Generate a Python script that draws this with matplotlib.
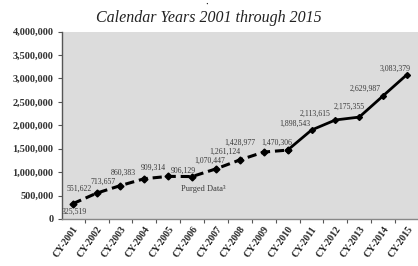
import matplotlib
matplotlib.use("Agg")
import matplotlib.pyplot as plt
import numpy as np

years = ["CY-2001", "CY-2002", "CY-2003", "CY-2004", "CY-2005", "CY-2006", "CY-2007",
         "CY-2008", "CY-2009", "CY-2010", "CY-2011", "CY-2012", "CY-2013", "CY-2014", "CY-2015"]
values = [325519, 551622, 713657, 860383, 909314, 906129, 1070447,
          1261124, 1428977, 1470306, 1898543, 2113615, 2175355, 2629987, 3083379]
value_labels = ["325,519", "551,622", "713,657", "860,383", "909,314", "906,129", "1,070,447",
                "1,261,124", "1,428,977", "1,470,306", "1,898,543", "2,113,615", "2,175,355",
                "2,629,987", "3,083,379"]
yticks = [0, 500000, 1000000, 1500000, 2000000, 2500000, 3000000, 3500000, 4000000]
ytick_labels = ["0", "500,000", "1,000,000", "1,500,000", "2,000,000", "2,500,000",
                "3,000,000", "3,500,000", "4,000,000"]
title = "Calendar Years 2001 through 2015"
note = "Purged Data³"
split_index = 9  # dashed up to CY-2010, solid after

# label offsets in pixels (dx, dy) relative to the point
label_offsets = [(2, -8), (-17, 4), (-17, 4), (-21, 6), (-15, 9), (-9, 6), (-6, 8),
                 (-15, 8), (-24, 9), (-11, 7), (-17, 6), (-20, 6), (-10, 10), (-18, 7), (-12, 6)]

serif = ["Liberation Serif", "DejaVu Serif"]

fig = plt.figure(figsize=(4.18, 2.66), dpi=100)
ax = fig.add_axes([62/418, 47/266, (418-62)/418, (219-31.6)/266])
ax.set_facecolor("#dcdcdc")

x = np.arange(len(years))
ax.plot(x[:split_index+1], values[:split_index+1], color="black", lw=2.2,
        linestyle=(0, (3, 1.6)), marker="D", ms=3.5, zorder=3)
ax.plot(x[split_index:], values[split_index:], color="black", lw=2.0,
        linestyle="-", marker="D", ms=3.0, zorder=3)

for xi, v, lab, (dx, dy) in zip(x, values, value_labels, label_offsets):
    ax.annotate(lab, (xi, v), xytext=(dx, dy), textcoords="offset pixels",
                ha="center", va="center", fontsize=5.6, color="#3a3a3a", family=serif)

ax.text(5.45, 640000, note, fontsize=6, color="#3a3a3a", family=serif,
        ha="center", va="center")

ax.set_xlim(-0.45, 14.46)
ax.set_ylim(0, 4000000)
ax.set_yticks(yticks)
ax.set_yticklabels(ytick_labels, family=serif, fontsize=7.5, fontweight="bold", color="#333333")
ax.set_xticks(x)
ax.set_xticklabels(years, rotation=55, ha="right", rotation_mode="anchor",
                   family=serif, fontsize=7, fontweight="bold", color="#222222")
ax.tick_params(axis="x", which="major", length=0, pad=4)
ax.set_xticks(x[:-1] + 0.5, minor=True)
ax.tick_params(axis="x", which="minor", length=3, color="#555555", width=0.8)
ax.tick_params(axis="y", length=3, color="#555555", width=0.8, pad=3)

for s in ["top", "right"]:
    ax.spines[s].set_visible(False)
ax.spines["left"].set_color("#555555")
ax.spines["left"].set_linewidth(1.0)
ax.spines["bottom"].set_color("#888888")
ax.spines["bottom"].set_linewidth(1.0)

fig.text(209/418, 1 - 18/266, title, ha="center", va="center", fontsize=11.5,
         style="italic", family=serif, color="#222222")
fig.text(207/418, 1 - 4/266, "·", ha="center", va="center", fontsize=6,
         family=serif, color="#222222", fontweight="bold")

fig.savefig("out.png", dpi=100)
